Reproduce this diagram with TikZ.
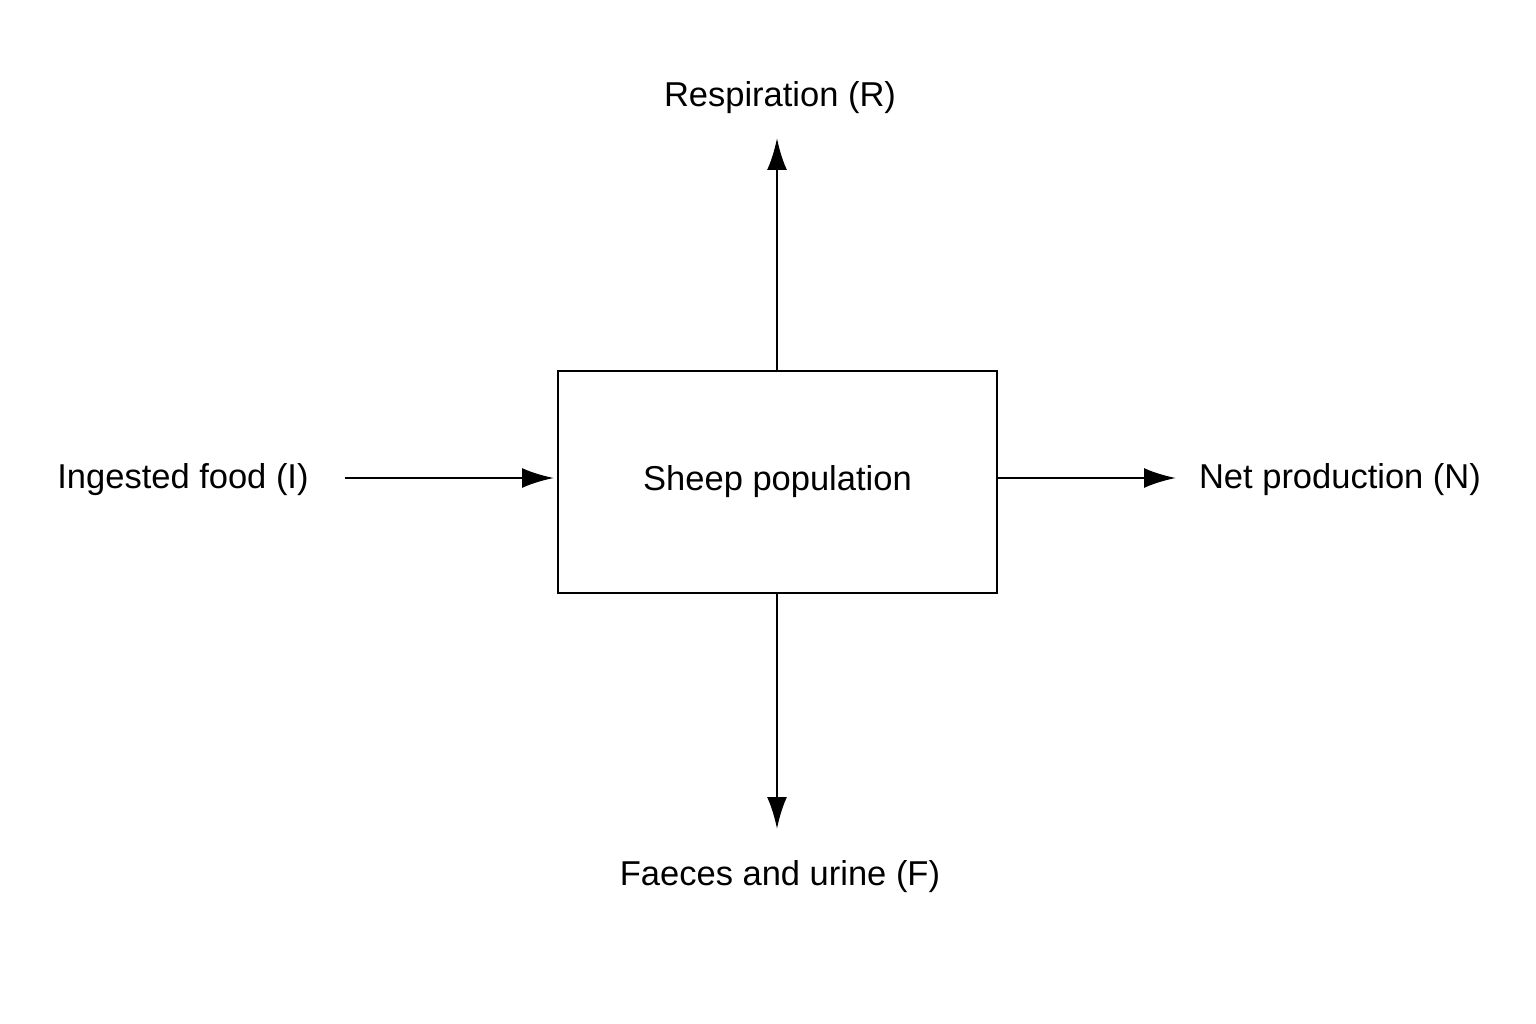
\documentclass[tikz,border=0pt]{standalone}
\usepackage{fontspec}
\setmainfont{Liberation Sans}
\usetikzlibrary{arrows.meta}
\begin{document}
\begin{tikzpicture}[x=1pt,y=-1pt,
  lbl/.style={font=\fontsize{34.5}{40}\selectfont, inner sep=0pt},
  flow/.style={line width=2.8pt,-{Latex[length=32pt,width=20pt]}}]
\useasboundingbox (0,0) rectangle (1536,1024);
\node[draw,line width=2.8pt,minimum width=439pt,minimum height=222pt,inner sep=0pt,lbl] (box) at (777.5,482) {Sheep population};
\node[lbl] (resp) at (780,98) {Respiration (R)};
\node[lbl] (ing) at (183,480) {Ingested food (I)};
\node[lbl] (net) at (1340,480) {Net production (N)};
\node[lbl] (fae) at (780,877) {Faeces and urine (F)};
\coordinate (up) at (777,138);
\coordinate (down) at (777,829);
\coordinate (inS) at (345,478);
\coordinate (inE) at (554,478);
\coordinate (outE) at (1176,478);
\draw[flow] (box.north -| up) -- (up);
\draw[flow] (box.south -| down) -- (down);
\draw[flow] (inS) -- (inE);
\draw[flow] (box.east |- outE) -- (outE);
\end{tikzpicture}
\end{document}
